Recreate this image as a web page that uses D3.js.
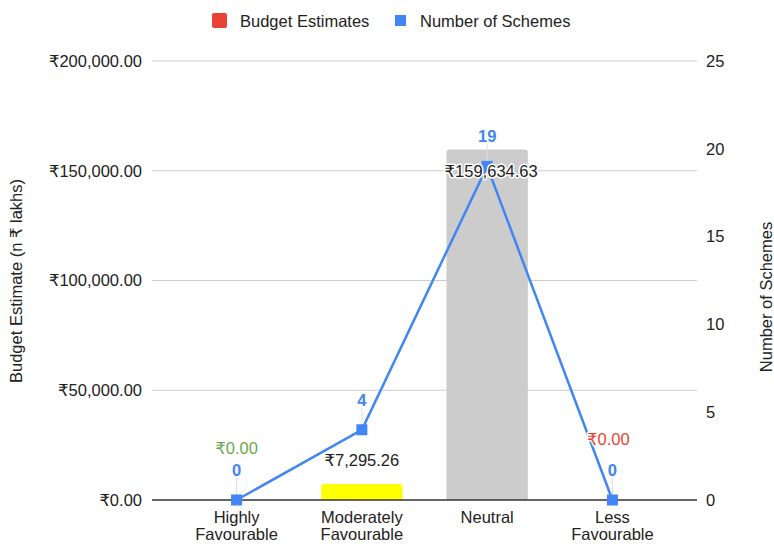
<!DOCTYPE html>
<html>
<head>
<meta charset="utf-8">
<script src="https://cdn.jsdelivr.net/npm/d3@7"></script>
<style>
  body { margin: 0; background: #fff; }
  text { font-family: Arial, "Liberation Sans", "DejaVu Sans", sans-serif; }
</style>
</head>
<body>
<svg id="chart" width="774" height="544"></svg>
<script>
var categories = [["Highly", "Favourable"], ["Moderately", "Favourable"], ["Neutral"], ["Less", "Favourable"]];
var budgets = [0, 7295.26, 159634.63, 0];
var schemes = [0, 4, 19, 0];
var barColors = ["#6aa84f", "#ffff00", "#cccccc", "#ea4335"];
var budgetLabelColors = ["#6aa84f", "#222222", "#222222", "#ea4335"];
var leftTicks = [0, 50000, 100000, 150000, 200000];
var rightTicks = [0, 5, 10, 15, 20, 25];

var svg = d3.select("#chart"),
    margin = {top: 61, right: 77, bottom: 44, left: 152},
    width = +svg.attr("width") - margin.left - margin.right,
    height = +svg.attr("height") - margin.top - margin.bottom;

var x = d3.scaleBand().domain(d3.range(categories.length)).range([0, width])
      .paddingInner(0.35).paddingOuter(0.35),
    yL = d3.scaleLinear().domain([0, 200000]).range([height, 0]),
    yR = d3.scaleLinear().domain([0, 25]).range([height, 0]);

var rupee = function(v) { return "\u20b9" + d3.format(",.2f")(v); };

var g = svg.append("g").attr("transform", "translate(" + margin.left + "," + margin.top + ")");

// gridlines
g.selectAll(".grid").data(leftTicks.slice(1)).enter().append("line")
  .attr("x1", 0).attr("x2", width)
  .attr("y1", function(d) { return yL(d); }).attr("y2", function(d) { return yL(d); })
  .attr("stroke", "#cccccc").attr("stroke-width", 1);

// left axis labels
g.selectAll(".ltick").data(leftTicks).enter().append("text")
  .attr("x", -10).attr("y", function(d) { return yL(d); }).attr("dy", "0.35em")
  .attr("text-anchor", "end").attr("font-size", 16.5).attr("fill", "#222")
  .text(rupee);

// right axis labels
g.selectAll(".rtick").data(rightTicks).enter().append("text")
  .attr("x", width + 9).attr("y", function(d) { return yR(d); }).attr("dy", "0.35em")
  .attr("text-anchor", "start").attr("font-size", 16.5).attr("fill", "#222")
  .text(function(d) { return d; });

// bars
g.selectAll(".bar").data(budgets).enter().append("path")
  .attr("fill", function(d, i) { return barColors[i]; })
  .attr("d", function(d, i) {
    var x0 = x(i), w = x.bandwidth(), y0 = yL(d), h = height - y0, r = Math.min(3, h);
    if (h <= 0) return "";
    return "M" + x0 + "," + height + "V" + (y0 + r) + "Q" + x0 + "," + y0 + " " + (x0 + r) + "," + y0 +
      "H" + (x0 + w - r) + "Q" + (x0 + w) + "," + y0 + " " + (x0 + w) + "," + (y0 + r) + "V" + height + "Z";
  });

// baseline
g.append("line").attr("x1", 0).attr("x2", width).attr("y1", height).attr("y2", height)
  .attr("stroke", "#333").attr("stroke-width", 1.3);

// x labels
g.selectAll(".xlab").data(categories).enter().append("text")
  .attr("text-anchor", "middle").attr("font-size", 16.5).attr("fill", "#222")
  .attr("transform", function(d, i) { return "translate(" + (x(i) + x.bandwidth() / 2) + "," + (height + 23) + ")"; })
  .selectAll("tspan").data(function(d) { return d; }).enter().append("tspan")
  .attr("x", 0).attr("dy", function(d, j) { return j === 0 ? 0 : "1.05em"; })
  .text(function(d) { return d; });

var cx = function(i) { return x(i) + x.bandwidth() / 2; };

// leader lines for scheme labels
g.selectAll(".leader").data(schemes).enter().append("line")
  .attr("x1", function(d, i) { return cx(i); }).attr("x2", function(d, i) { return cx(i); })
  .attr("y1", function(d) { return yR(d) - 3; }).attr("y2", function(d) { return yR(d) - 22; })
  .attr("stroke", "#dddddd").attr("stroke-width", 1);

// line
g.append("path").datum(schemes)
  .attr("fill", "none").attr("stroke", "#4285f4").attr("stroke-width", 2.5)
  .attr("d", d3.line().x(function(d, i) { return cx(i); }).y(function(d) { return yR(d); }));

g.selectAll(".pt").data(schemes).enter().append("rect")
  .attr("x", function(d, i) { return cx(i) - 5.5; }).attr("y", function(d) { return yR(d) - 5.5; })
  .attr("width", 11).attr("height", 11).attr("fill", "#4285f4");

// budget labels
var budgetLabelPos = function(d, i) {
  if (i === 2) return [cx(i) + 4, yL(d) + 22];
  if (i === 1) return [cx(i), yL(d) - 24];
  if (i === 3) return [cx(i) - 4, yL(d) - 61];
  return [cx(i), yL(d) - 52];
};
g.selectAll(".blab").data(budgets).enter().append("text")
  .attr("x", function(d, i) { return budgetLabelPos(d, i)[0]; })
  .attr("y", function(d, i) { return budgetLabelPos(d, i)[1]; })
  .attr("dy", "0.35em").attr("text-anchor", "middle").attr("font-size", 16.5)
  .attr("fill", function(d, i) { return budgetLabelColors[i]; })
  .attr("stroke", "#fff").attr("stroke-width", 3).attr("paint-order", "stroke")
  .attr("stroke-linejoin", "round")
  .text(rupee);

// scheme labels
g.selectAll(".slab").data(schemes).enter().append("text")
  .attr("x", function(d, i) { return cx(i); }).attr("y", function(d) { return yR(d) - 30; })
  .attr("dy", "0.35em").attr("text-anchor", "middle").attr("font-size", 16.5)
  .attr("font-weight", "bold").attr("fill", "#4285f4")
  .text(function(d) { return d; });

// axis titles
svg.append("text").attr("transform", "translate(22,281) rotate(-90)")
  .attr("text-anchor", "middle").attr("font-size", 16.5).attr("fill", "#222")
  .text("Budget Estimate (n \u20b9 lakhs)");
svg.append("text").attr("transform", "translate(772,297) rotate(-90)")
  .attr("text-anchor", "middle").attr("font-size", 16.5).attr("fill", "#222")
  .text("Number of Schemes");

// legend
var legend = svg.append("g");
legend.append("rect").attr("x", 212).attr("y", 13).attr("width", 15).attr("height", 15)
  .attr("rx", 2).attr("fill", "#ea4335");
legend.append("text").attr("x", 240).attr("y", 21).attr("dy", "0.35em")
  .attr("font-size", 16.5).attr("fill", "#222").text("Budget Estimates");
legend.append("rect").attr("x", 395).attr("y", 15).attr("width", 11).attr("height", 11)
  .attr("fill", "#4285f4");
legend.append("text").attr("x", 420).attr("y", 21).attr("dy", "0.35em")
  .attr("font-size", 16.5).attr("fill", "#222").text("Number of Schemes");
</script>
</body>
</html>
